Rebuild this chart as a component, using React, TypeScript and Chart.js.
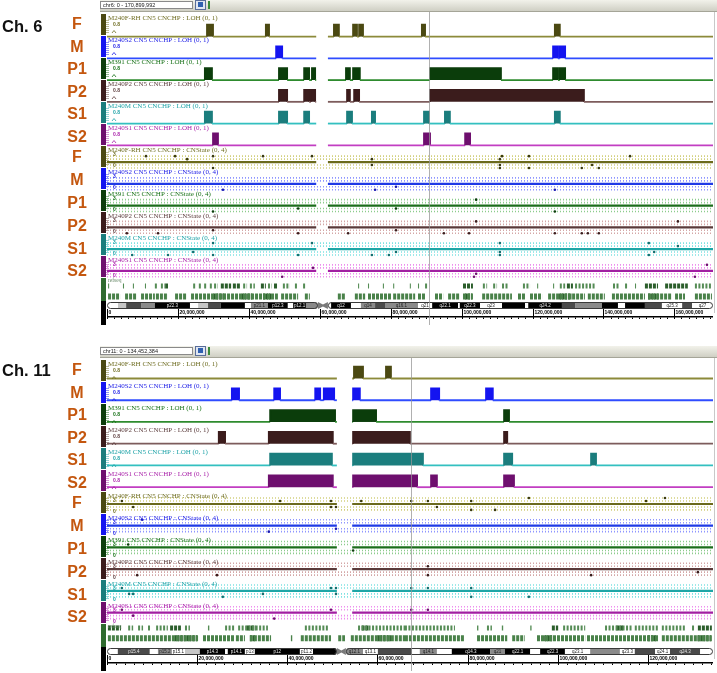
import React, { useEffect, useRef } from "react";
import { Chart, registerables } from "chart.js";

Chart.register(...registerables);

// ------------------------------------------------------------------ data
const panelTitles = ["Ch. 6", "Ch. 11"];
const chromLengthMb = [170.899992, 134.452384];
const locusLabels = ["chr6: 0 - 170,899,992", "chr11: 0 - 134,452,384"];
const centromereMb = [
  [59.0, 62.3],
  [51.0, 54.4],
];
const cursorMb = [90.8, 67.4];
const rulerMajorMb = 20;
const rulerMinorMb = 2;

const sampleLabels = ["F", "M", "P1", "P2", "S1", "S2"];
const sampleIds = ["M240F-RH", "M240S2", "M391", "M240P2", "M240M", "M240S1"];
const lohRangeLabel = "0.8";
const cnTopLabel = "3";
const cnBottomLabel = "0";

// LOH segments (Mb) per sample, chr6
const lohCh6F = [[28.2, 29.9], [44.8, 45.7], [64.0, 65.4], [69.4, 70.5], [71.1, 72.2], [88.8, 89.7], [126.3, 127.7]];
const lohCh6M = [[47.7, 49.4], [125.8, 127.2], [127.7, 129.2]];
const lohCh6P1 = [[27.6, 29.6], [48.5, 50.8], [55.6, 57.0], [57.8, 58.7], [67.4, 68.5], [69.4, 71.3], [91.1, 111.1], [125.8, 127.2], [127.7, 129.2]];
const lohCh6P2 = [[48.5, 50.8], [55.6, 57.0], [57.5, 58.7], [67.7, 68.5], [69.7, 71.1], [91.1, 134.5]];
const lohCh6S1 = [[27.6, 29.6], [48.5, 50.8], [55.6, 57.0], [67.7, 69.1], [74.7, 75.6], [89.4, 90.8], [95.3, 96.7], [126.3, 127.7]];
const lohCh6S2 = [[29.9, 31.3], [89.4, 91.1], [101.0, 102.4]];

// LOH segments (Mb) per sample, chr11
const lohCh11F = [[54.8, 56.8], [61.9, 63.0]];
const lohCh11M = [[27.7, 29.3], [37.1, 38.4], [46.2, 47.3], [48.1, 50.4], [54.6, 56.1], [71.9, 73.7], [84.1, 85.6]];
const lohCh11P1 = [[36.2, 50.6], [54.6, 59.7], [88.1, 89.2]];
const lohCh11P2 = [[24.8, 26.2], [35.9, 50.1], [54.6, 67.2], [88.1, 88.8]];
const lohCh11S1 = [[36.2, 49.9], [54.6, 70.1], [88.1, 89.9], [107.4, 108.5]];
const lohCh11S2 = [[35.9, 50.1], [54.6, 68.8], [71.9, 73.2], [88.1, 90.3]];

// CN state outlier calls [Mb, copy number], chr6
const cnCh6F = [[11.0, 4], [19.2, 4], [22.6, 3], [29.9, 4], [29.9, 0], [44.0, 4], [57.8, 4], [74.7, 3], [74.7, 1], [110.8, 3], [111.4, 4], [110.8, 1], [110.8, 0], [119.0, 4], [119.0, 0], [133.9, 0], [136.8, 1], [138.7, 0], [147.5, 4]];
const cnCh6M = [[32.7, 0], [75.6, 0], [81.5, 1], [126.3, 0]];
const cnCh6P1 = [[29.9, 0], [53.9, 1], [81.5, 1], [104.1, 4], [126.3, 0]];
const cnCh6P2 = [[5.6, 0], [14.4, 0], [29.9, 1], [53.9, 0], [68.0, 0], [81.5, 1], [95.0, 0], [102.1, 0], [104.1, 4], [126.3, 0], [133.9, 0], [135.6, 0], [138.7, 0], [161.0, 4]];
const cnCh6S1 = [[29.9, 4], [57.8, 4], [7.1, 0], [17.2, 0], [24.3, 1], [29.9, 0], [53.9, 0], [74.7, 0], [79.5, 0], [81.5, 1], [110.8, 4], [110.8, 1], [110.8, 0], [152.8, 4], [152.8, 0], [154.3, 1], [161.0, 3]];
const cnCh6S2 = [[49.4, 0], [58.1, 3], [103.5, 0], [104.1, 1], [165.8, 0], [169.2, 4]];

// CN state outlier calls [Mb, copy number], chr11
const cnCh11F = [[3.3, 3], [5.8, 1], [38.4, 3], [49.7, 3], [49.7, 1], [50.8, 1], [56.4, 3], [67.5, 3], [71.2, 3], [73.2, 1], [80.8, 3], [80.8, 0], [86.1, 0], [93.6, 4], [119.6, 3], [123.8, 4]];
const cnCh11M = [[7.8, 4], [35.9, 0], [50.8, 1]];
const cnCh11P1 = [[4.7, 3], [54.6, 1]];
const cnCh11P2 = [[6.7, 0], [24.4, 0], [71.2, 3], [71.2, 0], [107.4, 0], [131.1, 1]];
const cnCh11S1 = [[3.3, 3], [4.9, 1], [5.8, 1], [25.7, 0], [34.6, 1], [49.7, 3], [50.8, 3], [50.8, 1], [67.5, 3], [71.2, 3], [80.8, 3], [80.8, 0], [93.6, 0]];
const cnCh11S2 = [[3.3, 3], [5.8, 1], [37.1, 0], [49.7, 3], [67.5, 3], [71.2, 3]];

// RefSeq gene clusters [start Mb, end Mb]
const refUpperCh6 = [[0.3, 0.6], [4.5, 4.8], [7.3, 7.6], [10.7, 11.0], [13.5, 14.4], [15.2, 16.4], [24.3, 25.1], [25.9, 26.5], [27.4, 28.2], [29.0, 29.6], [30.2, 31.3], [38.4, 39.5], [40.3, 41.7], [45.4, 46.5], [49.6, 51.6], [53.0, 53.9], [55.3, 56.1], [70.8, 71.1], [73.6, 73.9], [77.8, 78.1], [80.7, 81.0], [85.4, 85.7], [87.7, 88.0], [89.7, 90.5], [106.0, 107.2], [108.9, 110.0], [111.4, 113.1], [117.3, 119.3], [121.3, 121.6], [125.8, 126.1], [127.7, 129.2], [132.0, 137.6], [142.7, 144.6], [146.1, 146.9], [148.9, 149.2], [165.8, 170.6]];
const refUpperDarkCh6 = [[16.4, 17.2], [32.1, 35.0], [35.5, 37.5], [43.4, 44.8], [47.1, 48.2], [100.4, 103.2], [129.7, 131.4], [151.7, 155.4], [157.4, 163.8]];
const refLowerCh6 = [[0.3, 3.7], [5.1, 8.2], [9.6, 13.5], [13.8, 17.2], [19.2, 22.3], [23.7, 48.2], [49.1, 53.9], [55.8, 57.2], [65.1, 67.1], [69.9, 72.8], [73.6, 80.1], [80.7, 86.9], [87.7, 89.7], [92.5, 94.8], [96.2, 99.5], [100.4, 103.2], [105.8, 114.2], [115.9, 117.9], [119.3, 122.7], [124.4, 134.8], [135.6, 140.4], [142.4, 151.7], [152.6, 159.3], [160.2, 163.0], [165.8, 170.6]];
const refLowerDarkCh6 = [[30.0, 33.5], [38.0, 41.0], [44.0, 46.5], [101.0, 103.0], [127.5, 131.0], [152.6, 155.5]];

const refUpperCh11 = [[4.7, 5.8], [6.9, 8.0], [9.1, 9.8], [10.9, 13.5], [17.3, 18.4], [22.4, 22.7], [26.2, 28.4], [29.1, 35.7], [43.9, 49.0], [55.7, 66.1], [66.1, 77.2], [82.1, 82.4], [84.3, 85.4], [87.6, 87.9], [93.9, 94.2], [101.2, 106.1], [110.5, 116.5], [117.1, 122.3], [123.1, 128.2], [129.8, 130.5]];
const refUpperDarkCh11 = [[0.2, 3.1], [14.0, 16.4], [31.0, 33.0], [56.5, 58.0], [98.7, 100.1], [113.0, 114.5], [131.1, 134.2]];
const refLowerCh11 = [[0.2, 20.2], [21.3, 28.4], [28.6, 30.6], [31.7, 36.4], [40.8, 41.1], [43.0, 49.7], [51.3, 52.8], [54.1, 66.1], [66.1, 79.4], [82.1, 88.8], [89.9, 92.7], [95.4, 106.1], [106.5, 122.3], [123.1, 134.2]];
const refLowerDarkCh11 = [[15.0, 20.0], [31.7, 33.0], [60.0, 63.0], [97.0, 99.0], [120.0, 122.0], [131.0, 134.0]];

// Cytobands [start Mb, end Mb, stain (0..100, -1 = centromere), name]
const bandsCh6 = [
  [0, 3.1, 0, ""], [3.1, 5.4, 25, ""], [5.4, 9.6, 75, ""], [9.6, 13.5, 50, ""], [13.5, 23.4, 100, "p22.3"],
  [23.4, 25.7, 0, ""], [25.7, 28.5, 25, ""], [28.5, 32.1, 75, ""], [32.1, 38.9, 100, ""], [38.9, 40.6, 0, ""],
  [40.6, 45.4, 50, "p21.1"], [45.4, 51.0, 100, "p12.3"], [51.0, 52.5, 0, ""], [52.5, 56.1, 100, "p12.1"],
  [56.1, 59.5, 50, ""], [59.5, 62.3, -1, ""], [62.3, 63.2, 0, ""], [63.2, 68.8, 100, "q12"], [68.8, 71.6, 0, ""],
  [71.6, 75.6, 50, "q14"], [75.6, 78.4, 75, ""], [78.4, 87.7, 50, "q16.1"], [87.7, 91.7, 0, "q21"],
  [91.7, 99.0, 100, "q22.1"], [99.0, 99.5, 0, ""], [99.5, 105.2, 100, "q22.3"], [105.2, 111.4, 0, "q23"],
  [111.4, 117.9, 100, ""], [117.9, 118.8, 0, ""], [118.8, 128.3, 100, "q24.2"], [128.3, 132.0, 75, ""],
  [132.0, 139.6, 50, ""], [139.6, 144.1, 100, ""], [144.1, 146.1, 0, ""], [146.1, 151.7, 100, ""],
  [151.7, 156.5, 75, ""], [156.5, 162.2, 0, "q25.3"], [162.2, 165.0, 75, ""], [165.0, 170.9, 0, "q27"],
];
const bandsCh11 = [
  [0, 2.4, 0, ""], [2.4, 9.5, 75, "p15.4"], [9.5, 11.3, 0, ""], [11.3, 14.4, 50, "p15.2"], [14.4, 17.3, 0, "p15.1"],
  [17.3, 20.6, 25, ""], [20.6, 26.2, 100, "p14.3"], [26.2, 26.8, 0, ""], [26.8, 30.6, 100, "p14.1"],
  [30.6, 32.8, 0, "p13"], [32.8, 42.8, 100, "p12"], [42.8, 45.7, 0, "p11.2"], [45.7, 51.0, 100, ""],
  [51.0, 53.0, -1, ""], [53.0, 56.8, 50, "q12.1"], [56.8, 60.1, 0, "q13.1"], [60.1, 67.7, 75, ""],
  [67.7, 69.4, 0, ""], [69.4, 73.2, 50, "q14.1"], [73.2, 76.5, 0, ""], [76.5, 85.0, 100, "q14.3"],
  [85.0, 88.3, 50, "q21"], [88.3, 93.9, 100, "q22.1"], [93.9, 96.1, 0, ""], [96.1, 101.6, 100, "q22.3"],
  [101.6, 107.2, 0, "q23.1"], [107.2, 113.8, 50, ""], [113.8, 117.1, 0, "q23.3"], [117.1, 121.6, 75, ""],
  [121.6, 124.9, 0, "q24.1"], [124.9, 131.6, 75, "q24.3"], [131.6, 134.45, 0, ""],
];

const lohSegments = [
  [lohCh6F, lohCh6M, lohCh6P1, lohCh6P2, lohCh6S1, lohCh6S2],
  [lohCh11F, lohCh11M, lohCh11P1, lohCh11P2, lohCh11S1, lohCh11S2],
];
const cnPoints = [
  [cnCh6F, cnCh6M, cnCh6P1, cnCh6P2, cnCh6S1, cnCh6S2],
  [cnCh11F, cnCh11M, cnCh11P1, cnCh11P2, cnCh11S1, cnCh11S2],
];
const refUpper = [refUpperCh6, refUpperCh11];
const refUpperDark = [refUpperDarkCh6, refUpperDarkCh11];
const refLower = [refLowerCh6, refLowerCh11];
const refLowerDark = [refLowerDarkCh6, refLowerDarkCh11];
const cytobands = [bandsCh6, bandsCh11];

// ------------------------------------------------------------------ layout & style
const CANVAS_W = 717;
const CANVAS_H = 673;
const PANEL_Y = [0, 346];
const PLOT_LEFT = 107;
const PLOT_RIGHT = 713;
const LOH_TOP = 14;
const CN_TOP = 146;
const TRACK_H = 22;
const LOH_BASE = 19;
const LOH_UNIT = 12;
const CN_ZERO = 20;
const CN_UNIT = 3;
const REF_TOP = 278;
const REF_ROW1 = 285.5;
const REF_ROW2 = 296;
const IDEO_TOP = 302;
const IDEO_H = 7;
const RULER_Y = 316;
const PANEL_BOTTOM = 325;
const TITLE_Y = [27, 371 - 346];

const trackFill = ["#4b4912", "#1414f0", "#0b3d0b", "#3b1c1c", "#1b7d7d", "#6e0f6e"];
const trackLine = ["#8c8a3a", "#2f4cff", "#2e8b2e", "#7d5c5c", "#33c0c0", "#c23ec2"];
const trackText = ["#6f6d22", "#1a1ae6", "#157015", "#5f4040", "#1fa3a8", "#a81fa8"];
const cnLine = ["#6b6a1c", "#1f3ae6", "#1b6e1b", "#5a3a3a", "#1ea6a6", "#a21fa2"];
const cnGrid = ["#d2d07e", "#8f96ff", "#8ccc8c", "#d4a6a6", "#7ee2e2", "#ee8eee"];
const cnDot = ["#3a3a10", "#1a1ab0", "#0b3d0b", "#3b1c1c", "#137070", "#6e0f6e"];
const labelColor = "#c4570f";
const refLight = "#558c55";
const refLowerLight = "#4a824a";
const refDark = "#2b5e2b";

const lohY = (p: number, i: number, v: number) => PANEL_Y[p] + LOH_TOP + TRACK_H * i + LOH_BASE - v * LOH_UNIT;
const cnY = (p: number, i: number, cn: number) => PANEL_Y[p] + CN_TOP + TRACK_H * i + CN_ZERO - cn * CN_UNIT;

function stainColor(s: number) {
  if (s >= 100) return "#000000";
  if (s >= 75) return "#4a4a4a";
  if (s >= 50) return "#8a8a8a";
  if (s >= 25) return "#c6c6c6";
  return "#ffffff";
}

function segPoints(arr: number[][], y: number) {
  const out: any[] = [];
  for (const [s, e] of arr) out.push({ x: s, y }, { x: e, y }, { x: e, y: null });
  return out;
}

function buildDatasets() {
  const ds: any[] = [];
  for (let p = 0; p < 2; p++) {
    const xid = "x" + p;
    const len = chromLengthMb[p];
    const [c0, c1] = centromereMb[p];
    const mid = (c0 + c1) / 2;
    for (let i = 0; i < 6; i++) {
      // LOH
      const b = lohY(p, i, 0);
      const t = lohY(p, i, 1);
      const pts: any[] = [{ x: 0, y: b }];
      let gapped = false;
      const addGap = () => {
        pts.push({ x: c0, y: b }, { x: mid, y: null }, { x: c1, y: b });
        gapped = true;
      };
      for (const [s, e] of lohSegments[p][i]) {
        if (!gapped && s >= c0) addGap();
        pts.push({ x: s, y: b }, { x: s, y: t }, { x: e, y: t }, { x: e, y: b });
      }
      if (!gapped) addGap();
      pts.push({ x: len, y: b });
      const lc = trackLine[i];
      const fc = trackFill[i];
      ds.push({
        type: "line",
        label: sampleIds[i] + " LOH",
        data: pts,
        xAxisID: xid,
        yAxisID: "y",
        borderColor: lc,
        backgroundColor: fc,
        borderWidth: 1.8,
        pointRadius: 0,
        fill: { value: b },
        spanGaps: false,
        order: 5,
        segment: {
          borderColor: (c: any) => (c.p0.parsed.y === b && c.p1.parsed.y === b ? lc : fc),
        },
      });

      // CN grid
      const grid: any[] = [];
      for (const lv of [4, 3, 1, 0]) {
        const y = cnY(p, i, lv);
        grid.push({ x: 0, y }, { x: len, y }, { x: len, y: null });
      }
      ds.push({
        type: "line",
        data: grid,
        xAxisID: xid,
        yAxisID: "y",
        borderColor: cnGrid[i],
        borderWidth: 1.6,
        borderDash: [1, 2],
        pointRadius: 0,
        fill: false,
        spanGaps: false,
        order: 8,
      });
      // CN state line
      const y2 = cnY(p, i, 2);
      ds.push({
        type: "line",
        data: [{ x: 0, y: y2 }, { x: c0, y: y2 }, { x: mid, y: null }, { x: c1, y: y2 }, { x: len, y: y2 }],
        xAxisID: xid,
        yAxisID: "y",
        borderColor: cnLine[i],
        borderWidth: 2.2,
        pointRadius: 0,
        fill: false,
        spanGaps: false,
        order: 4,
      });
      // CN outliers
      ds.push({
        type: "line",
        data: cnPoints[p][i].map(([m, s]) => ({ x: m, y: cnY(p, i, s) })),
        xAxisID: xid,
        yAxisID: "y",
        showLine: false,
        pointRadius: 1.3,
        pointBorderWidth: 0,
        pointBackgroundColor: cnDot[i],
        order: 2,
      });
    }
    // RefSeq
    const r1 = PANEL_Y[p] + REF_ROW1;
    const r2 = PANEL_Y[p] + REF_ROW2;
    const refSets = [
      [refUpper[p], r1, refLight, 5, [2, 1.5]],
      [refUpperDark[p], r1, refDark, 5, [3, 1]],
      [refLower[p], r2, refLowerLight, 6, [3, 1]],
      [refLowerDark[p], r2, refDark, 6, [2, 1]],
    ];
    for (const [arr, y, col, w, dash] of refSets as any[]) {
      ds.push({
        type: "line",
        data: segPoints(arr, y),
        xAxisID: xid,
        yAxisID: "y",
        borderColor: col,
        borderWidth: w,
        borderDash: dash,
        borderCapStyle: "butt",
        pointRadius: 0,
        fill: false,
        spanGaps: false,
        order: 6,
      });
    }
  }
  return ds;
}

function roundRectPath(ctx: CanvasRenderingContext2D, x: number, y: number, w: number, h: number, r: number) {
  const rr = Math.min(r, w / 2, h / 2);
  ctx.moveTo(x + rr, y);
  ctx.lineTo(x + w - rr, y);
  ctx.arcTo(x + w, y, x + w, y + rr, rr);
  ctx.lineTo(x + w, y + h - rr);
  ctx.arcTo(x + w, y + h, x + w - rr, y + h, rr);
  ctx.lineTo(x + rr, y + h);
  ctx.arcTo(x, y + h, x, y + h - rr, rr);
  ctx.lineTo(x, y + rr);
  ctx.arcTo(x, y, x + rr, y, rr);
  ctx.closePath();
}

const genomePlugin = {
  id: "genomeDecor",
  beforeDraw(chart: any) {
    const ctx: CanvasRenderingContext2D = chart.ctx;
    ctx.save();
    ctx.fillStyle = "#ffffff";
    ctx.fillRect(0, 0, CANVAS_W, CANVAS_H);
    for (let p = 0; p < 2; p++) {
      const oy = PANEL_Y[p];
      // header toolbar
      const g = ctx.createLinearGradient(0, oy, 0, oy + 11);
      g.addColorStop(0, "#f2f2ea");
      g.addColorStop(1, "#cfcfc4");
      ctx.fillStyle = g;
      ctx.fillRect(100, oy, CANVAS_W - 100, 11);
      ctx.fillStyle = "#a5a598";
      ctx.fillRect(100, oy + 11, CANVAS_W - 100, 1);
      ctx.fillStyle = "#ffffff";
      ctx.fillRect(100, oy + 1, 93, 8);
      ctx.strokeStyle = "#8a8a8a";
      ctx.lineWidth = 1;
      ctx.strokeRect(100.5, oy + 1.5, 92, 7);
      ctx.fillStyle = "#222222";
      ctx.font = '5.5px "Liberation Sans"';
      ctx.textBaseline = "middle";
      ctx.textAlign = "left";
      ctx.fillText(locusLabels[p], 103, oy + 5.5);
      ctx.fillStyle = "#dfe6f2";
      ctx.fillRect(195, oy, 11, 10);
      ctx.strokeStyle = "#5a6e9a";
      ctx.strokeRect(195.5, oy + 0.5, 10, 9);
      ctx.fillStyle = "#3060b0";
      ctx.fillRect(198, oy + 2, 5, 5);
      ctx.fillStyle = "#3a8a3a";
      ctx.fillRect(208, oy + 1, 2, 8);
      // right frame
      ctx.fillStyle = "#c8c8c8";
      ctx.fillRect(714, oy + 12, 1, REF_TOP + 23);
      // track strips
      for (let i = 0; i < 6; i++) {
        ctx.fillStyle = trackFill[i];
        ctx.fillRect(101, oy + LOH_TOP + TRACK_H * i, 5, TRACK_H - 1);
        ctx.fillRect(101, oy + CN_TOP + TRACK_H * i, 5, TRACK_H - 1);
        ctx.fillStyle = trackText[i];
        ctx.globalAlpha = 0.6;
        for (let k = 6; k <= 19; k += 2) {
          ctx.fillRect(106, oy + LOH_TOP + TRACK_H * i + k, 3, 0.8);
          ctx.fillRect(106, oy + CN_TOP + TRACK_H * i + k, 3, 0.8);
        }
        ctx.globalAlpha = 1;
      }
      ctx.fillStyle = "#2f6b2f";
      ctx.fillRect(101, oy + REF_TOP, 5, 23);
      ctx.fillStyle = "#000000";
      ctx.fillRect(101, oy + IDEO_TOP - 1, 5, PANEL_BOTTOM - IDEO_TOP + 1);
    }
    ctx.restore();
  },
  afterDatasetsDraw(chart: any) {
    const ctx: CanvasRenderingContext2D = chart.ctx;
    ctx.save();
    for (let p = 0; p < 2; p++) {
      const oy = PANEL_Y[p];
      const xs = chart.scales["x" + p];
      const len = chromLengthMb[p];
      const bands = cytobands[p];
      // ideogram
      const top = oy + IDEO_TOP;
      const h = IDEO_H;
      const acen = bands.find((b: any) => b[2] < 0) as any;
      const pa0 = xs.getPixelForValue(0);
      const pa1 = xs.getPixelForValue(acen[0]);
      const qa0 = xs.getPixelForValue(acen[1]);
      const qa1 = xs.getPixelForValue(len);
      ctx.save();
      ctx.beginPath();
      roundRectPath(ctx, pa0, top, pa1 - pa0, h, 3);
      roundRectPath(ctx, qa0, top, qa1 - qa0, h, 3);
      ctx.clip();
      for (const b of bands as any[]) {
        if (b[2] < 0) continue;
        const x0 = xs.getPixelForValue(b[0]);
        const x1 = xs.getPixelForValue(b[1]);
        ctx.fillStyle = stainColor(b[2]);
        ctx.fillRect(x0, top, x1 - x0, h);
      }
      ctx.restore();
      // centromere pinch
      const cm = (pa1 + qa0) / 2;
      ctx.fillStyle = "#7a7a7a";
      ctx.beginPath();
      ctx.moveTo(pa1, top);
      ctx.lineTo(cm, top + h / 2 - 1);
      ctx.lineTo(qa0, top);
      ctx.lineTo(qa0, top + h);
      ctx.lineTo(cm, top + h / 2 + 1);
      ctx.lineTo(pa1, top + h);
      ctx.closePath();
      ctx.fill();
      ctx.strokeStyle = "#3a3a3a";
      ctx.lineWidth = 1;
      ctx.beginPath();
      roundRectPath(ctx, pa0 + 0.5, top + 0.5, pa1 - pa0 - 1, h - 1, 3);
      roundRectPath(ctx, qa0 + 0.5, top + 0.5, qa1 - qa0 - 1, h - 1, 3);
      ctx.stroke();
      ctx.font = '4.5px "Liberation Sans"';
      ctx.textAlign = "center";
      ctx.textBaseline = "middle";
      for (const b of bands as any[]) {
        if (!b[3]) continue;
        const x0 = xs.getPixelForValue(b[0]);
        const x1 = xs.getPixelForValue(b[1]);
        ctx.fillStyle = b[2] >= 75 ? "#e8e8e8" : "#222222";
        ctx.fillText(b[3], (x0 + x1) / 2, top + h / 2 + 0.3);
      }
      // ruler
      const ry = oy + RULER_Y;
      ctx.fillStyle = "#000000";
      ctx.fillRect(PLOT_LEFT, ry, PLOT_RIGHT - PLOT_LEFT, 1.5);
      for (let m = 0; m <= len; m += rulerMinorMb) {
        const x = Math.round(xs.getPixelForValue(m));
        ctx.fillRect(x, ry + 1.5, 1, 1.5);
      }
      ctx.font = 'bold 5px "Liberation Sans"';
      ctx.textAlign = "left";
      ctx.textBaseline = "middle";
      for (let m = 0; m <= len; m += rulerMajorMb) {
        const x = Math.round(xs.getPixelForValue(m));
        ctx.fillRect(x, ry - 7, 1, 10);
        ctx.fillText((m * 1000000).toLocaleString("en-US"), x + 1.5, ry - 3.5);
      }
      // cursor line
      const cx = Math.round(xs.getPixelForValue(cursorMb[p])) + 0.5;
      ctx.strokeStyle = "rgba(150,150,150,0.75)";
      ctx.lineWidth = 1;
      ctx.beginPath();
      ctx.moveTo(cx, oy + 12);
      ctx.lineTo(cx, oy + PANEL_BOTTOM);
      ctx.stroke();
    }
    ctx.restore();
  },
  afterDraw(chart: any) {
    const ctx: CanvasRenderingContext2D = chart.ctx;
    ctx.save();
    for (let p = 0; p < 2; p++) {
      const oy = PANEL_Y[p];
      // chromosome title
      ctx.fillStyle = "#111111";
      ctx.font = 'bold 16.5px "Liberation Sans"';
      ctx.textAlign = "left";
      ctx.textBaseline = "middle";
      ctx.fillText(panelTitles[p], 2, oy + TITLE_Y[p]);
      // sample labels
      ctx.fillStyle = labelColor;
      ctx.font = 'bold 16px "Liberation Sans"';
      ctx.textAlign = "center";
      for (let i = 0; i < 6; i++) {
        ctx.fillText(sampleLabels[i], 77, oy + 24.5 + 22.6 * i);
        ctx.fillText(sampleLabels[i], 77, oy + 157.5 + 22.9 * i);
      }
      // track titles
      ctx.textAlign = "left";
      for (let i = 0; i < 6; i++) {
        const lt = oy + LOH_TOP + TRACK_H * i;
        const ct = oy + CN_TOP + TRACK_H * i;
        ctx.fillStyle = trackText[i];
        ctx.font = '7px "Liberation Serif"';
        ctx.fillText(sampleIds[i] + " CN5 CNCHP : LOH (0, 1)", 108, lt + 4);
        ctx.fillText(sampleIds[i] + " CN5 CNCHP : CNState (0, 4)", 108, ct + 4);
        ctx.font = 'bold 5px "Liberation Sans"';
        ctx.fillText(lohRangeLabel, 113, lt + 10.5);
        ctx.fillText(cnTopLabel, 113, ct + 9);
        ctx.fillText(cnBottomLabel, 113, ct + 19.5);
        // small data-range caret
        ctx.strokeStyle = trackText[i];
        ctx.lineWidth = 0.8;
        ctx.beginPath();
        ctx.moveTo(112, lt + 19);
        ctx.lineTo(114, lt + 16.5);
        ctx.lineTo(116, lt + 19);
        ctx.stroke();
      }
      ctx.fillStyle = "#6a8a6a";
      ctx.font = '5.5px "Liberation Serif"';
      ctx.fillText("refseq", 108, oy + REF_TOP + 3);
    }
    ctx.restore();
  },
};

export default function App() {
  const canvasRef = useRef<HTMLCanvasElement | null>(null);
  useEffect(() => {
    const canvas = canvasRef.current;
    if (!canvas) return;
    const chart = new Chart(canvas, {
      type: "line",
      data: { datasets: buildDatasets() },
      options: {
        responsive: false,
        animation: false,
        events: [],
        layout: { padding: { left: PLOT_LEFT, right: CANVAS_W - PLOT_RIGHT, top: 0, bottom: 0 } },
        plugins: { legend: { display: false }, tooltip: { enabled: false } },
        scales: {
          x0: { type: "linear", axis: "x", min: 0, max: chromLengthMb[0], display: false },
          x1: { type: "linear", axis: "x", min: 0, max: chromLengthMb[1], display: false },
          y: { type: "linear", min: 0, max: CANVAS_H, reverse: true, display: false },
        },
        elements: { line: { tension: 0 } },
      } as any,
      plugins: [genomePlugin as any],
    } as any);
    return () => chart.destroy();
  }, []);
  return (
    <div style={{ position: "absolute", left: 0, top: 0, width: CANVAS_W, height: CANVAS_H, background: "#ffffff" }}>
      <canvas ref={canvasRef} width={CANVAS_W} height={CANVAS_H} style={{ display: "block", width: CANVAS_W, height: CANVAS_H }} />
    </div>
  );
}
